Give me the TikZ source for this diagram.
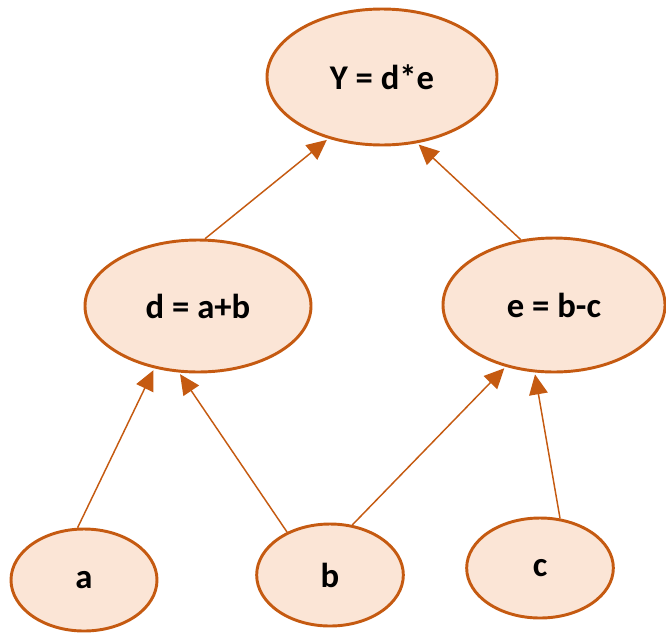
\documentclass[tikz,border=0pt]{standalone}
\usepackage{fontspec}
\setmainfont{Carlito}
\usetikzlibrary{shapes.geometric,arrows.meta}
\definecolor{nodefill}{HTML}{FBE5D6}
\definecolor{nodeline}{HTML}{C55A11}
\begin{document}
\begin{tikzpicture}[x=0.75pt,y=-0.75pt,
  opnode/.style={ellipse,draw=nodeline,fill=nodefill,line width=2.2pt,inner sep=0pt,
    font=\fontsize{26}{30}\selectfont\bfseries},
  flow/.style={draw=nodeline,line width=1.1pt,shorten >=1.5pt,-{Triangle[length=15pt,width=14pt]}}]
\useasboundingbox (0,0) rectangle (666,632);
% operation nodes
\node[opnode,minimum width=172.5pt,minimum height=102pt] (Y) at (382,77) {Y = d*e};
\node[opnode,minimum width=169.5pt,minimum height=99pt] (d) at (198,306) {d = a+b};
\node[opnode,minimum width=166.5pt,minimum height=100.5pt] (e) at (554,305) {e = b-c};
% input nodes
\node[opnode,minimum width=109.5pt,minimum height=76.5pt] (a) at (84,580) {a};
\node[opnode,minimum width=110pt,minimum height=76.5pt] (b) at (330,575) {b};
\node[opnode,minimum width=110pt,minimum height=75pt] (c) at (540,568) {c};
% data flow
\draw[flow] (d.84) -- (Y.229);
\draw[flow] (e.117) -- (Y.298);
\draw[flow] (a.97) -- (d.235);
\draw[flow] (b.135) -- (d.254);
\draw[flow] (b.66) -- (e.232);
\draw[flow] (c.68) -- (e.254);
\end{tikzpicture}
\end{document}
